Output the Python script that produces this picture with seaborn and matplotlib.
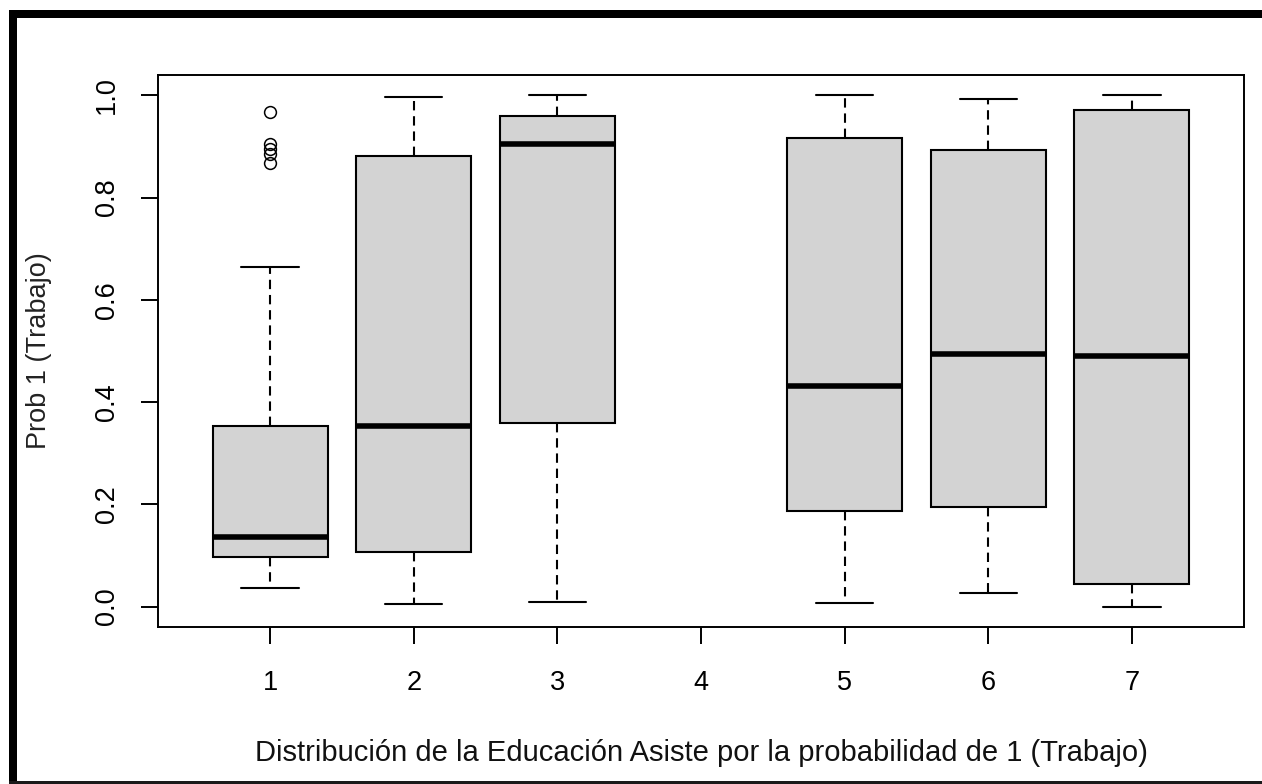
import numpy as np
import pandas as pd
import matplotlib
matplotlib.use("Agg")
import matplotlib.pyplot as plt
from matplotlib.patches import Rectangle
import seaborn as sns

# Five-number summaries of Prob 1 (Trabajo) per education level
levels = ["1", "2", "3", "4", "5", "6", "7"]
whisker_low = [0.037, 0.005, 0.008, None, 0.007, 0.026, 0.000]
q1 = [0.096, 0.107, 0.360, None, 0.186, 0.194, 0.044]
median = [0.136, 0.354, 0.905, None, 0.431, 0.494, 0.490]
q3 = [0.354, 0.882, 0.960, None, 0.916, 0.894, 0.971]
whisker_high = [0.665, 0.997, 1.000, None, 1.000, 0.993, 1.000]
outliers_1 = [0.967, 0.905, 0.895, 0.885, 0.867]
outliers = {"1": outliers_1}

# Long-form table whose quartiles / whiskers reproduce the summaries above
rows = []
for lev, lo, a, m, b, hi in zip(levels, whisker_low, q1, median, q3, whisker_high):
    if lo is None:
        continue
    tail = [hi] + outliers.get(lev, [])
    k = len(tail)
    vals = [lo] + [a] * k + [m] * k + [b] * k + tail
    rows += [(lev, v) for v in vals]
df = pd.DataFrame(rows, columns=["nivel", "prob"])

sns.set_style("white")
plt.rcParams["font.family"] = ["Liberation Sans", "DejaVu Sans"]

fig = plt.figure(figsize=(12.62, 7.84), dpi=100)
ax = fig.add_axes([158 / 1262, 1 - 627 / 784, (1244 - 158) / 1262, (627 - 75) / 784])

lw = 1.5
sns.boxplot(
    data=df, x="nivel", y="prob", order=levels, ax=ax,
    color="#d3d3d3", saturation=1, width=0.8, linecolor="black", linewidth=lw,
    whis=1.5,
    whiskerprops=dict(linestyle=(0, (4.5, 2.8)), linewidth=lw, color="black"),
    capprops=dict(linewidth=lw, color="black"),
    medianprops=dict(linewidth=4, color="black"),
    boxprops=dict(linewidth=lw, edgecolor="black"),
    flierprops=dict(marker="o", markersize=8.5, markerfacecolor="none",
                    markeredgecolor="black", markeredgewidth=1.1),
)

ax.set_xlim(-0.78, 6.78)
ax.set_ylim(-0.04, 1.04)
ax.set_yticks([0.0, 0.2, 0.4, 0.6, 0.8, 1.0])
ax.set_yticklabels(["0.0", "0.2", "0.4", "0.6", "0.8", "1.0"])

for s in ax.spines.values():
    s.set_visible(True)
    s.set_color("black")
    s.set_linewidth(1.4)

fs = 19.5
ax.tick_params(axis="x", direction="out", length=12, width=1.4, pad=19,
               labelsize=fs, colors="black", bottom=True)
ax.tick_params(axis="y", direction="out", length=12, width=1.4, pad=15.5,
               labelsize=fs, colors="black", left=True, labelrotation=90)
for t in ax.get_yticklabels():
    t.set_verticalalignment("center")

ax.set_xlabel("Distribución de la Educación Asiste por la probabilidad de 1 (Trabajo)",
              fontsize=21, color="#111111")
ax.set_ylabel("Prob 1 (Trabajo)", fontsize=fs, color="#222222")
ax.xaxis.set_label_coords(0.5, -(739 - 627) / 552)
ax.yaxis.set_label_coords(-(158 - 52) / 1086, 0.5)

# Black frame around the figure (top, left, bottom)
W, H = 1262, 784
fig.add_artist(Rectangle((9 / W, 1 - 18 / H), 1 - 9 / W, 8 / H,
                         transform=fig.transFigure, color="black", lw=0))
fig.add_artist(Rectangle((9 / W, 0), 8 / W, 1 - 10 / H,
                         transform=fig.transFigure, color="black", lw=0))
fig.add_artist(Rectangle((9 / W, 0.5 / H), 1 - 9 / W, 2.5 / H,
                         transform=fig.transFigure, color="#1a1a1a", lw=0))

fig.savefig("out.png", dpi=100)
